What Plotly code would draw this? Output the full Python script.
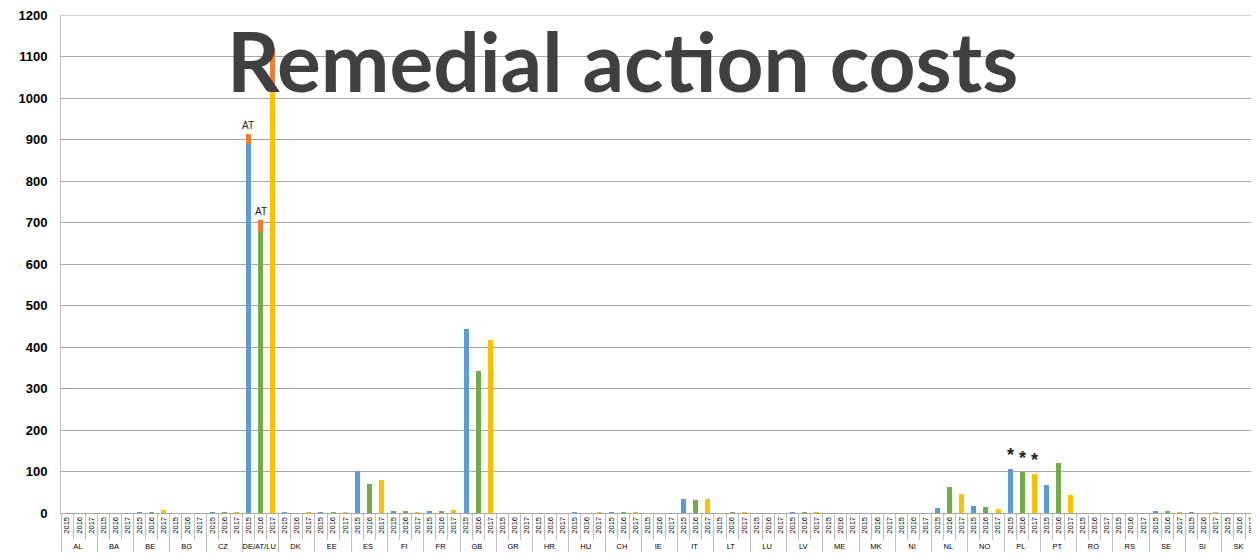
import plotly.graph_objects as go

countries = ["AL", "BA", "BE", "BG", "CZ", "DE/AT/LU", "DK", "EE", "ES", "FI", "FR",
             "GB", "GR", "HR", "HU", "CH", "IE", "IT", "LT", "LU", "LV", "ME", "MK",
             "NI", "NL", "NO", "PL", "PT", "RO", "RS", "SE", "SI", "SK"]
years = ["2015", "2016", "2017"]

v2015 = [0, 0, 2, 0, 2, 890, 2, 2, 101, 4, 4, 443, 0, 0, 2, 2, 0, 34, 0, 0, 2, 0, 0,
         0, 12, 17, 105, 67, 0, 0, 3, 1, 0]
v2016 = [0, 0, 2, 0, 2, 676, 0, 2, 70, 4, 4, 342, 0, 0, 0, 2, 0, 31, 2, 0, 2, 0, 0,
         0, 63, 15, 100, 120, 0, 0, 3, 0, 0]
v2017 = [0, 0, 7, 0, 2, 1025, 2, 2, 79, 1, 8, 418, 0, 0, 1, 2, 0, 34, 2, 0, 2, 0, 0,
         0, 47, 10, 95, 44, 0, 0, 1, 2, 0]
# Austrian share stacked on top of DE/AT/LU bars
at_share = [23, 30, 95]

year_colors = {"2015": "#5B9BD5", "2016": "#70AD47", "2017": "#FFC000"}

outer, inner, vals, cols = [], [], [], []
for i, c in enumerate(countries):
    for y, series in zip(years, (v2015, v2016, v2017)):
        outer.append(c)
        inner.append(y)
        vals.append(series[i])
        cols.append(year_colors[y])

fig = go.Figure()
fig.add_trace(go.Bar(x=[outer, inner], y=vals, marker=dict(color=cols, line=dict(width=0)),
                     showlegend=False, hoverinfo="x+y"))
fig.add_trace(go.Bar(x=[["DE/AT/LU"] * 3, years], y=at_share,
                     marker=dict(color="#ED7D31", line=dict(width=0)),
                     showlegend=False))

# "AT" labels above DE/AT/LU 2015 and 2016
deidx = countries.index("DE/AT/LU")
for y, series, s in zip(years[:2], (v2015, v2016), at_share[:2]):
    fig.add_annotation(x=("DE/AT/LU", y), y=series[deidx] + s, text="AT",
                       showarrow=False, yanchor="bottom", yshift=1,
                       font=dict(family="Liberation Sans", size=10, color="#222"))

# asterisks above PL bars
plidx = countries.index("PL")
for y, series in zip(years, (v2015, v2016, v2017)):
    fig.add_annotation(x=("PL", y), y=series[plidx], text="<b>*</b>",
                       showarrow=False, yanchor="bottom", yshift=2,
                       font=dict(family="Liberation Sans", size=18, color="#222"))

fig.add_annotation(xref="paper", yref="paper", x=0.469, y=1.012, xanchor="center",
                   yanchor="top", text="<b>Remedial action costs</b>", showarrow=False,
                   font=dict(family="Lato", size=82, color="#404040"))

fig.update_layout(
    width=1251, height=546,
    margin=dict(l=53, r=1, t=7, b=41),
    barmode="stack", bargap=0.58,
    plot_bgcolor="white", paper_bgcolor="white",
    font=dict(family="Liberation Sans", color="#000"),
)
fig.update_yaxes(range=[0, 1200], dtick=100, showgrid=True, gridcolor="#A6A6A6",
                 gridwidth=1, showline=True, linecolor="#BFBFBF", zeroline=False,
                 tickfont=dict(family="Liberation Sans", size=13, color="#000",
                               weight="bold"),
                 ticks="", ticklabelstandoff=10, ticklabeloverflow="allow")
fig.update_xaxes(type="multicategory", showline=True, linecolor="#A6A6A6",
                 mirror=False,
                 ticks="outside", tickson="boundaries", ticklen=26, tickcolor="#BFBFBF",
                 showdividers=True, dividercolor="#BFBFBF", dividerwidth=1,
                 tickangle=-90, tickfont=dict(family="Liberation Sans", size=7.5,
                                               color="#000"))
# top border line at 1200 like the reference's top gridline
fig.add_shape(type="line", xref="paper", yref="y", x0=0, x1=1, y0=1200, y1=1200,
              line=dict(color="#A6A6A6", width=1), layer="below")

fig.write_html("out.html")
